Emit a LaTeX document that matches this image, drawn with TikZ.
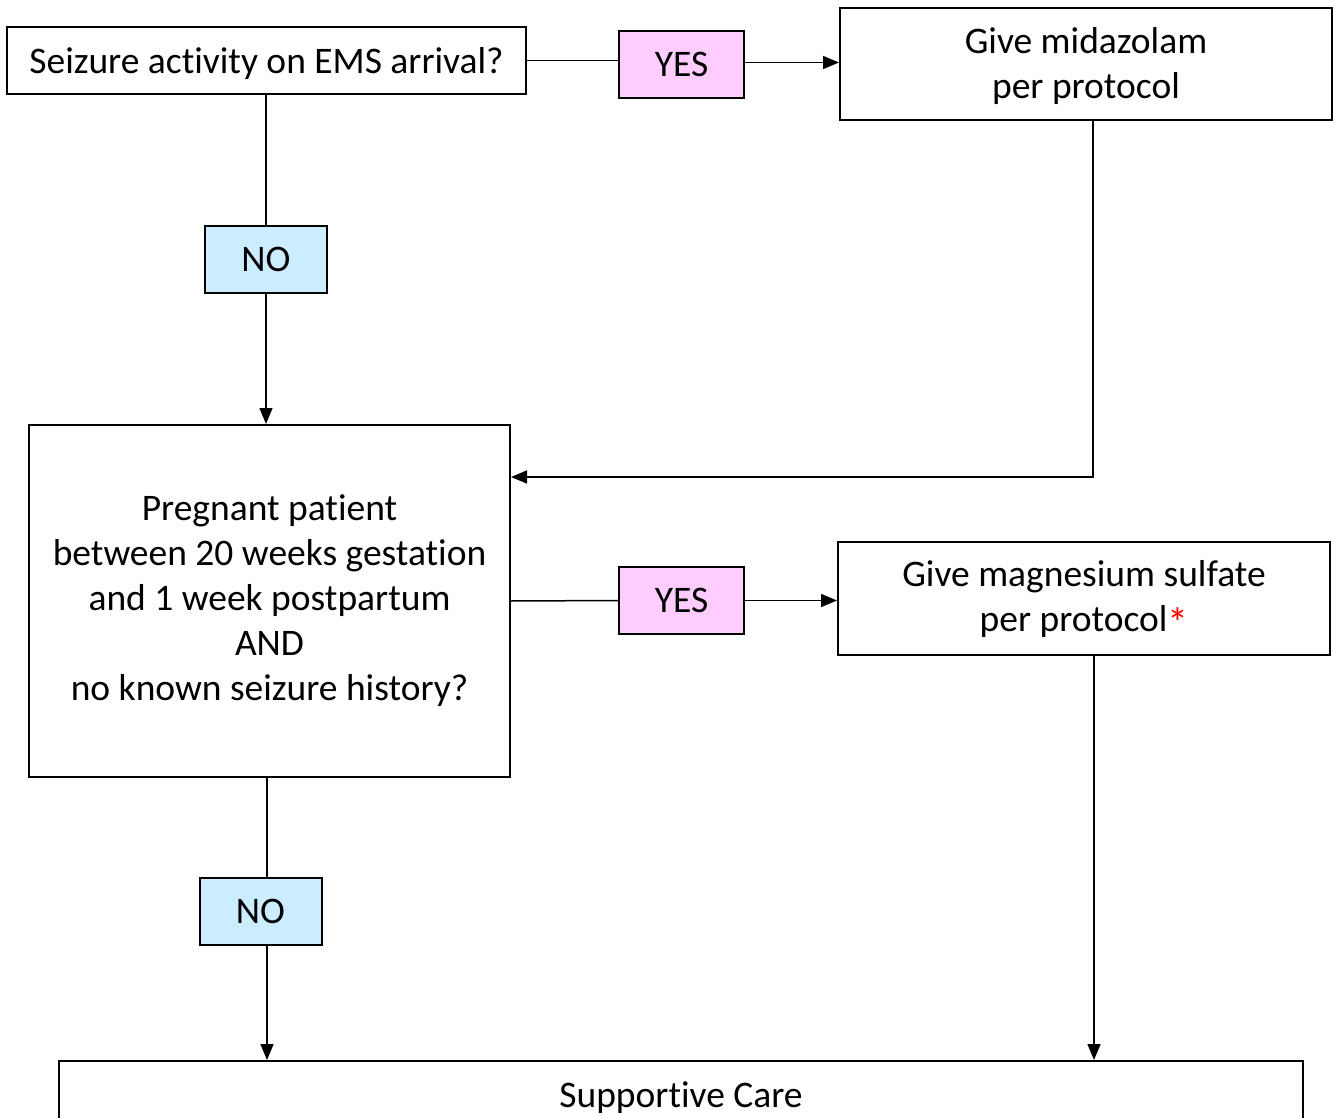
\documentclass[tikz,border=0pt]{standalone}
\usepackage{fontspec}
\setmainfont{Carlito}[Ligatures=NoCommon]
\usetikzlibrary{arrows.meta}
\definecolor{yespink}{HTML}{FFCCFF}
\definecolor{noblue}{HTML}{CCECFF}
\begin{document}
\begin{tikzpicture}[x=1pt,y=-1pt,
 box/.style={draw=black, line width=2pt, fill=white, align=center, inner sep=0pt, font=\fontsize{37.5}{45}\selectfont},
 yesbox/.style={box, fill=yespink, minimum width=125pt, minimum height=67pt},
 nobox/.style={box, fill=noblue, minimum width=122pt, minimum height=67pt},
 conn/.style={line width=1.5pt},
 arr/.style={conn, -{Triangle[length=16pt,width=13pt]}}]
\useasboundingbox (0,0) rectangle (1333,1118);
\node[box, minimum width=519pt, minimum height=67pt, text height=30pt, text depth=3pt] (q1) at (266.5,60.5) {Seizure activity on EMS arrival?};
\node[yesbox] (y1) at (681.5,64.5) {YES};
\node[box, minimum width=492pt, minimum height=112pt] (mid) at (1086,64) {\rule{0pt}{30pt}Give midazolam\\per protocol};
\node[nobox] (n1) at (266,259.5) {NO};
\node[box, minimum width=481pt, minimum height=352pt] (q2) at (269.5,601) {Pregnant patient\\between 20 weeks gestation\\and 1 week postpartum\\AND\\no known seizure history?};
\node[yesbox] (y2) at (681.5,600.5) {YES};
\node[box, minimum width=492pt, minimum height=113pt] (mag) at (1084,598.5) {Give magnesium sulfate\\per protocol{\color{red}\fontsize{42}{45}\selectfont\raisebox{-6pt}{*}}};
\node[nobox] (n2) at (260.5,911.5) {NO};
\node[box, anchor=north, minimum width=1244pt, text height=25pt, text depth=60pt, inner ysep=21pt] (sc) at (681,1060) {Supportive Care};
\coordinate (y1out) at ([yshift=2pt]y1.east);
\draw[conn] (q1.east) -- (y1.west |- q1.east);
\draw[arr] (y1out) -- (mid.west |- y1out);
\draw[conn] (n1.north |- q1.south) -- (n1.north);
\draw[arr] (n1.south) -- (n1.south |- q2.north);
\draw[arr] ([xshift=7pt]mid.south) |- ([yshift=124pt]q2.east);
\draw[conn] (q2.east) -- (y2.west);
\draw[arr] (y2.east) -- (mag.west |- y2.east);
\draw[conn] ([xshift=6.5pt]n2.north |- q2.south) -- ([xshift=6.5pt]n2.north);
\draw[arr] ([xshift=6.5pt]n2.south) -- ([xshift=6.5pt]n2.south |- sc.north);
\draw[arr] ([xshift=10pt]mag.south) -- ([xshift=10pt]mag.south |- sc.north);
\end{tikzpicture}
\end{document}
